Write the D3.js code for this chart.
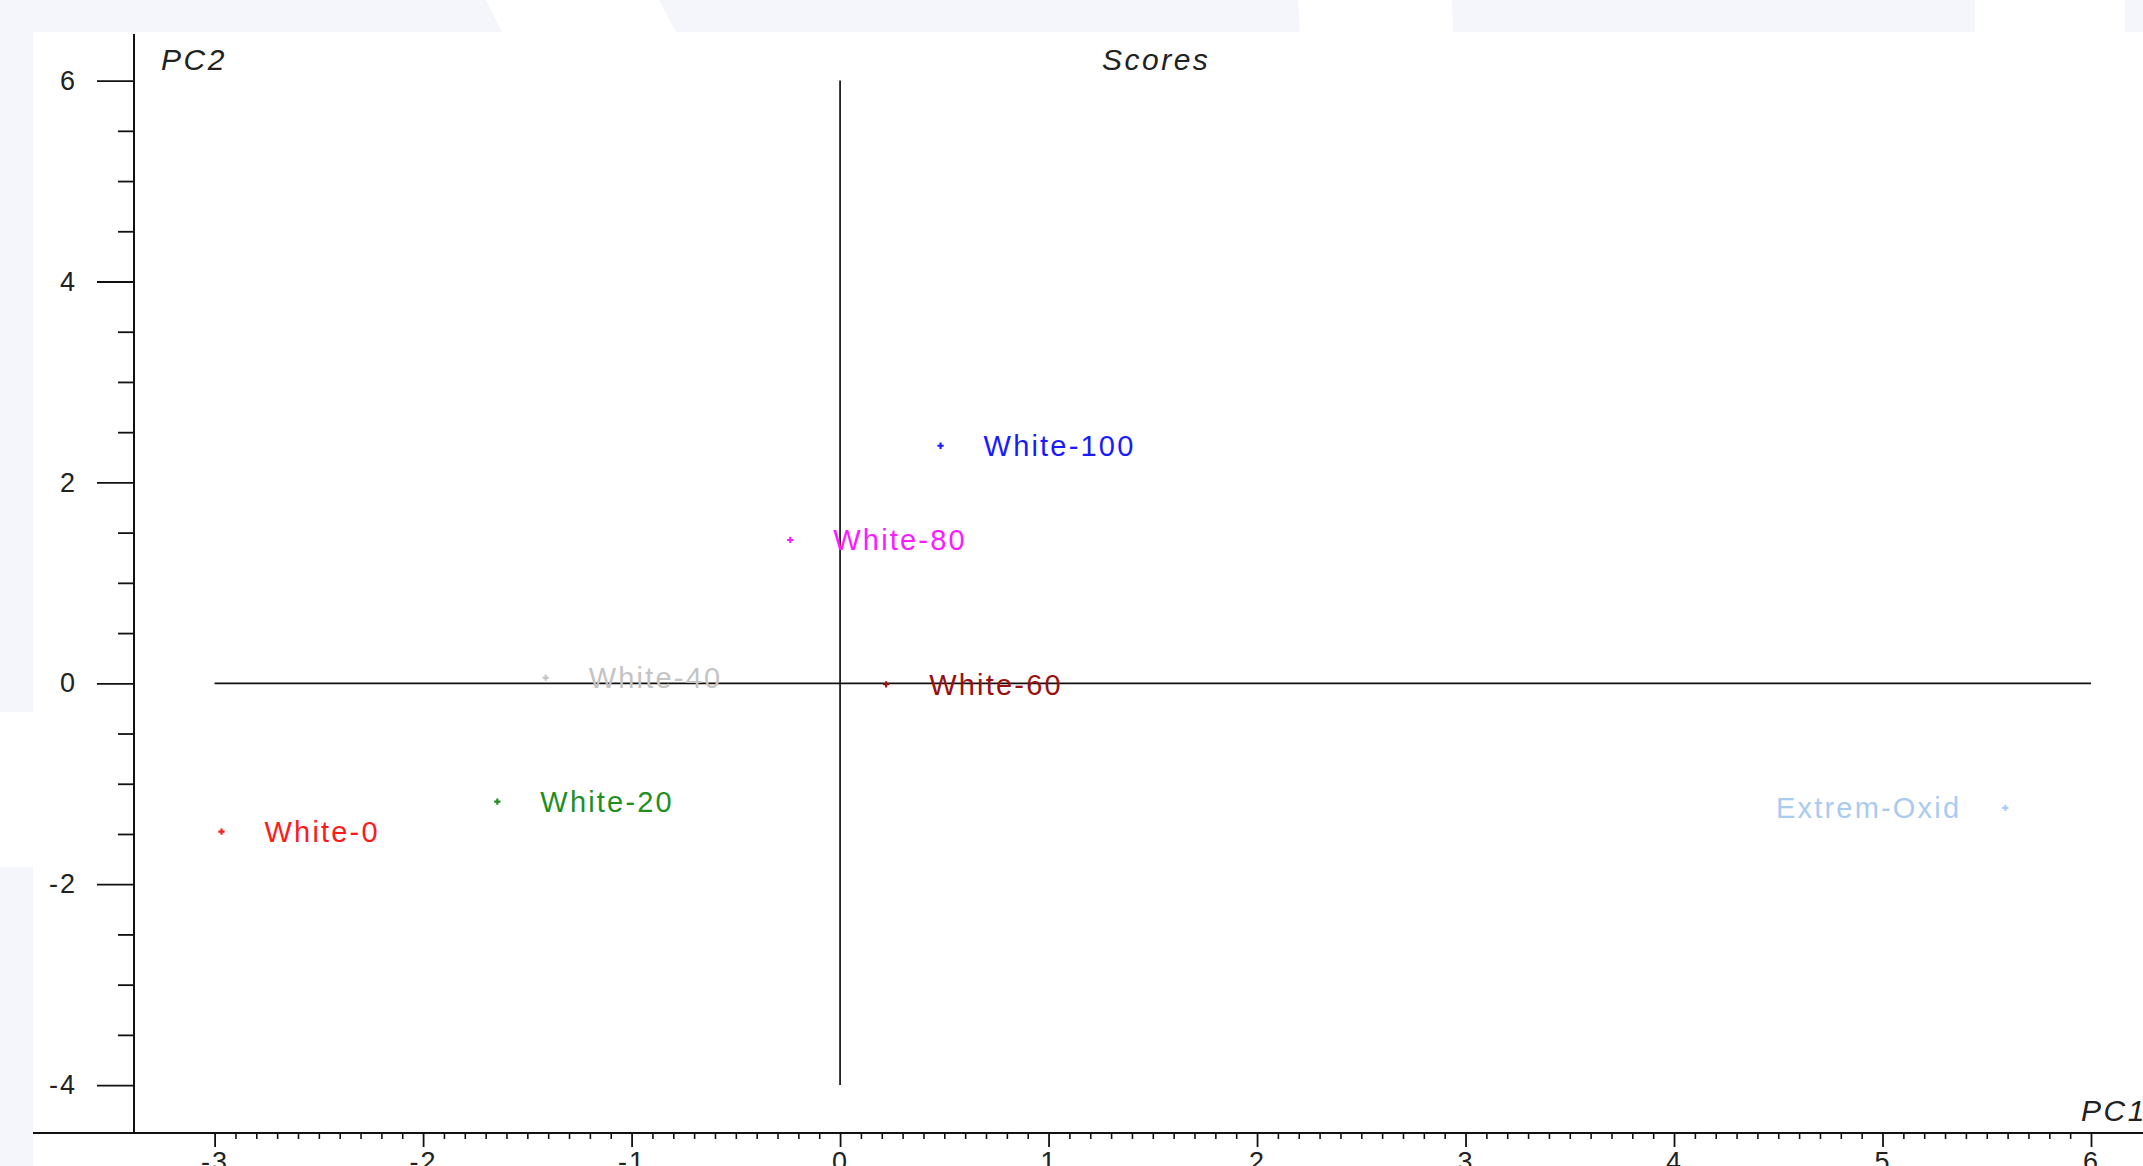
<!DOCTYPE html>
<html>
<head>
<meta charset="utf-8">
<script src="https://cdn.jsdelivr.net/npm/d3@7"></script>
<style>
  html, body { margin: 0; padding: 0; background: #ffffff; overflow: hidden; }
  svg { display: block; }
  text { font-family: "Liberation Sans", Arial, sans-serif; }
</style>
</head>
<body>
<svg id="chart" width="2143" height="1166"></svg>
<script>
// PCA score plot: sample names, their PC1 / PC2 scores and label colours
const samples   = ["White-0", "White-20", "White-40", "White-60", "White-80", "White-100", "Extrem-Oxid"];
const pc1Scores = [-2.967, -1.644, -1.412, 0.221, -0.239, 0.482, 5.589];
const pc2Scores = [-1.477, -1.178, 0.056, -0.010, 1.427, 2.365, -1.240];
const colors    = ["#ff1a1a", "#1f8f1f", "#c4c4c4", "#9a1010", "#ff1aff", "#1a1aff", "#a9cbf2"];
const labelSide = ["right", "right", "right", "right", "right", "right", "left"];

const xTickValues = [-3, -2, -1, 0, 1, 2, 3, 4, 5, 6];
const yTickValues = [-4, -2, 0, 2, 4, 6];
const chartTitle = "Scores";
const xAxisTitle = "PC1";
const yAxisTitle = "PC2";

const W = 2143, H = 1166;
const svg = d3.select("#chart");

// faint decorative backdrop bands around the plot
const bandColor = "#f5f6fb";
const backdrop = svg.append("g");
backdrop.append("rect").attr("x", 0).attr("y", 0).attr("width", W).attr("height", 32).attr("fill", bandColor);
backdrop.append("rect").attr("x", 0).attr("y", 0).attr("width", 33).attr("height", 712).attr("fill", bandColor);
backdrop.append("rect").attr("x", 0).attr("y", 867).attr("width", 33).attr("height", H - 867).attr("fill", bandColor);
// white cut-outs in the top band
backdrop.append("polygon").attr("points", "486,0 659,0 676,32 502,32").attr("fill", "#ffffff");
backdrop.append("polygon").attr("points", "1298,0 1452,0 1453,32 1300,32").attr("fill", "#ffffff");
backdrop.append("rect").attr("x", 1975).attr("y", 0).attr("width", 150).attr("height", 32).attr("fill", "#ffffff");

// scales
const x = d3.scaleLinear().domain([-3, 6]).range([214.6, 2091]);
const y = d3.scaleLinear().domain([-4, 6]).range([1085.1, 80.6]);

const axisX = 134;     // pixel position of the vertical axis line
const axisY = 1133;    // pixel position of the horizontal axis line

// tick labels use a plain hyphen for negatives
const tickFmt = d => String(d);
const tickText = g => g.selectAll("text")
  .attr("fill", "#222").attr("font-size", 27).attr("letter-spacing", "2px")
  .attr("font-family", "Liberation Sans, Arial, sans-serif");

// ---- bottom axis (PC1) ----
const minorX = d3.range(-30, 61).map(i => i / 10).filter(v => !xTickValues.includes(v));
const gx = svg.append("g").attr("transform", `translate(0,${axisY})`);
gx.append("g")
  .call(d3.axisBottom(x).tickValues(minorX).tickSize(6).tickFormat(""))
  .call(g => g.select(".domain").remove())
  .call(g => g.selectAll("line").attr("stroke", "#111").attr("stroke-width", 1.6));
gx.append("g")
  .call(d3.axisBottom(x).tickValues(xTickValues).tickSize(14).tickPadding(5).tickFormat(tickFmt))
  .call(g => g.select(".domain").remove())
  .call(g => g.selectAll("line").attr("stroke", "#111").attr("stroke-width", 1.8))
  .call(tickText);
svg.append("line").attr("x1", 33).attr("x2", W).attr("y1", axisY).attr("y2", axisY)
  .attr("stroke", "#111").attr("stroke-width", 2);

// ---- left axis (PC2) ----
const minorY = d3.range(-8, 13).map(i => i / 2).filter(v => !yTickValues.includes(v));
const gy = svg.append("g").attr("transform", `translate(${axisX},0)`);
gy.append("g")
  .call(d3.axisLeft(y).tickValues(minorY).tickSize(16).tickFormat(""))
  .call(g => g.select(".domain").remove())
  .call(g => g.selectAll("line").attr("stroke", "#111").attr("stroke-width", 1.8));
gy.append("g")
  .call(d3.axisLeft(y).tickValues(yTickValues).tickSize(37).tickPadding(20).tickFormat(tickFmt))
  .call(g => g.select(".domain").remove())
  .call(g => g.selectAll("line").attr("stroke", "#111").attr("stroke-width", 1.8))
  .call(tickText);
svg.append("line").attr("x1", axisX).attr("x2", axisX).attr("y1", 34).attr("y2", axisY)
  .attr("stroke", "#111").attr("stroke-width", 2);

// ---- origin cross-hair lines spanning the tick range ----
svg.append("line")
  .attr("x1", x(-3)).attr("x2", x(6)).attr("y1", y(0)).attr("y2", y(0))
  .attr("stroke", "#111").attr("stroke-width", 1.7);
svg.append("line")
  .attr("x1", x(0)).attr("x2", x(0)).attr("y1", y(6)).attr("y2", y(-4))
  .attr("stroke", "#111").attr("stroke-width", 1.7);

// ---- titles ----
const italic = sel => sel.attr("font-style", "italic").attr("font-size", 30)
  .attr("letter-spacing", "2.5px").attr("fill", "#222");
svg.append("text").attr("x", 161).attr("y", 70).text(yAxisTitle).call(italic);
svg.append("text").attr("x", 1102).attr("y", 70).text(chartTitle).call(italic);
svg.append("text").attr("x", 2081).attr("y", 1121).text(xAxisTitle).call(italic);

// ---- score points and their labels ----
const data = samples.map((name, i) => ({
  name, pc1: pc1Scores[i], pc2: pc2Scores[i], color: colors[i], side: labelSide[i]
}));

const pts = svg.append("g").selectAll("g").data(data).join("g")
  .attr("transform", d => `translate(${x(d.pc1)},${y(d.pc2)})`);

pts.append("path")
  .attr("d", d3.symbol(d3.symbolCross, 22))
  .attr("fill", d => d.color);

pts.append("text")
  .attr("x", d => d.side === "left" ? -44 : 43)
  .attr("dy", "0.36em")
  .attr("text-anchor", d => d.side === "left" ? "end" : "start")
  .attr("font-size", 29)
  .attr("letter-spacing", "2.2px")
  .attr("fill", d => d.color)
  .text(d => d.name);
</script>
</body>
</html>
